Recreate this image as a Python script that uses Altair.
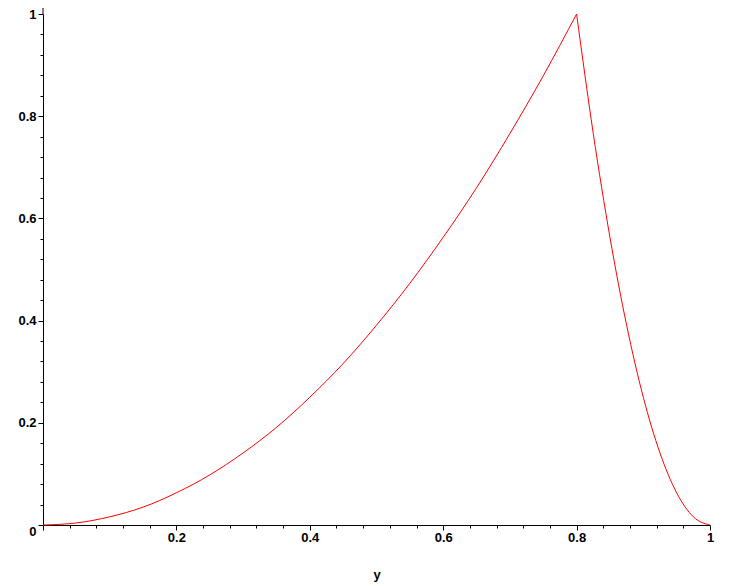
import altair as alt
import pandas as pd

# values
rise_x = [0.0, 0.05, 0.1, 0.15, 0.2, 0.25, 0.3, 0.35, 0.4, 0.45, 0.5, 0.55, 0.6, 0.65, 0.7, 0.75, 0.8]
rise_y = [0.0, 0.004, 0.016, 0.035, 0.063, 0.098, 0.141, 0.191, 0.25, 0.316, 0.391, 0.473, 0.563, 0.66, 0.766, 0.879, 1.0]
fall_x = [0.8, 0.825, 0.85, 0.875, 0.9, 0.925, 0.95, 0.975, 1.0]
fall_y = [1.0, 0.766, 0.563, 0.391, 0.25, 0.141, 0.063, 0.016, 0.0]

tick_vals = [0.0, 0.04, 0.08, 0.12, 0.16, 0.2, 0.24, 0.28, 0.32, 0.36, 0.4, 0.44, 0.48,
             0.52, 0.56, 0.6, 0.64, 0.68, 0.72, 0.76, 0.8, 0.84, 0.88, 0.92, 0.96, 1.0]
axis_top = [1.0, 1.021]

rows = []
for i, (a, b) in enumerate(zip(rise_x, rise_y)):
    rows.append({"x": a, "v": b, "seg": "rise", "o": i})
for i, (a, b) in enumerate(zip(fall_x, fall_y)):
    rows.append({"x": a, "v": b, "seg": "fall", "o": i})
df = pd.DataFrame(rows)

major = "round(datum.value*100) % 20 == 0"
font = "Liberation Sans"

x_axis = alt.Axis(
    values=tick_vals, grid=False, domainColor="black", tickColor="black",
    tickSize={"condition": {"test": major, "value": 5}, "value": 3},
    labelExpr=f"datum.value > 0.001 && {major} ? format(datum.value, '~g') : ''",
    labelFont=font, labelFontSize=13, labelFontWeight="bold", labelColor="black",
    labelPadding=1, labelFlush=False, labelOverlap=False,
    title="y", titleFont=font, titleFontSize=13, titleFontWeight="bold",
    titleColor="black", titlePadding=24,
)
y_axis = alt.Axis(
    values=tick_vals, grid=False, domainColor="black", tickColor="black",
    tickSize={"condition": {"test": major, "value": 5}, "value": 3},
    labelExpr=f"{major} ? format(datum.value, '~g') : ''",
    labelFont=font, labelFontSize=13, labelFontWeight="bold", labelColor="black",
    labelPadding=2, labelFlush=False, labelOverlap=False,
    labelBaseline={"condition": {"test": "datum.value < 0.001", "value": "top"}, "value": "middle"},
    title=None,
)

xs = alt.Scale(domain=[0, 1], nice=False, zero=False)
ys = alt.Scale(domain=[0, 1.0], nice=False)

curve = alt.Chart(df).mark_line(color="#ff0000", strokeWidth=1, interpolate="monotone").encode(
    x=alt.X("x:Q", scale=xs, axis=x_axis),
    y=alt.Y("v:Q", scale=ys, axis=y_axis),
    detail="seg:N",
    order="o:Q",
)

ext = alt.Chart(pd.DataFrame({"a": [axis_top[0]], "b": [axis_top[1]]})).mark_rule(
    color="black", strokeWidth=1
).encode(
    x=alt.value(0),
    y=alt.Y("a:Q", scale=ys, axis=y_axis),
    y2="b:Q",
)

chart = alt.layer(curve, ext).properties(
    width=667, height=511,
    padding={"left": 35, "top": 6, "right": 10, "bottom": 60},
    autosize=alt.AutoSizeParams(type="none"),
    background="white",
).configure_view(strokeWidth=0)

chart.save("out.html", embed_options={"renderer": "svg", "actions": False})
